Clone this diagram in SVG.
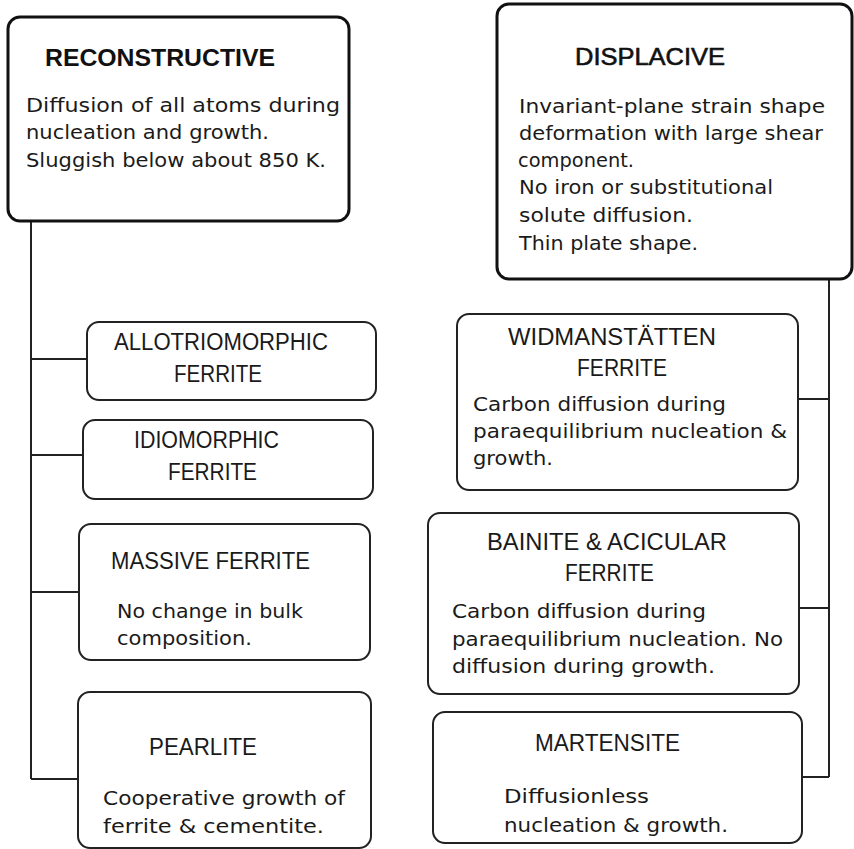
<svg xmlns="http://www.w3.org/2000/svg" width="854" height="849" viewBox="0 0 854 849">
<style>
.main{fill:#fff;stroke:#111;stroke-width:3}
.box{fill:#fff;stroke:#222;stroke-width:2}
.hd{font-family:"Liberation Sans",Arial,sans-serif;font-size:23px;fill:#1a1a1a}
.big{font-family:"Liberation Sans",Arial,sans-serif;font-size:24px;fill:#111;font-weight:bold}
.tx{font-family:"DejaVu Sans","Liberation Sans",sans-serif;font-size:19px;fill:#1a1a1a}
.cn{fill:none;stroke:#222;stroke-width:2}
</style>
<rect width="854" height="849" fill="#fff"/>
<g id="connectors">
<path class="cn" d="M31,221 V779 M31,359 H87 M31,455 H83 M31,592 H79 M31,779 H78"/>
<path class="cn" d="M829,279 V777 M798,399 H829 M799,608 H829 M802,777 H829"/>
</g>
<g id="reconstructive">
<rect class="main" x="8" y="17" width="341" height="204" rx="12"/>
<text class="big" x="45" y="66" textLength="230" lengthAdjust="spacingAndGlyphs">RECONSTRUCTIVE</text>
<text class="tx" x="26" y="112" textLength="314" lengthAdjust="spacingAndGlyphs">Diffusion of all atoms during</text>
<text class="tx" x="26" y="139" textLength="243" lengthAdjust="spacingAndGlyphs">nucleation and growth.</text>
<text class="tx" x="26" y="167" textLength="300" lengthAdjust="spacingAndGlyphs">Sluggish below about 850 K.</text>
</g>
<g id="displacive">
<rect class="main" x="497" y="4" width="355" height="275" rx="12"/>
<text class="big" x="575" y="65" textLength="150" lengthAdjust="spacingAndGlyphs" style="font-weight:normal;stroke:#111;stroke-width:0.6">DISPLACIVE</text>
<text class="tx" x="519" y="113" textLength="306" lengthAdjust="spacingAndGlyphs">Invariant-plane strain shape</text>
<text class="tx" x="519" y="140" textLength="304" lengthAdjust="spacingAndGlyphs">deformation with large shear</text>
<text class="tx" x="518" y="167" textLength="116" lengthAdjust="spacingAndGlyphs">component.</text>
<text class="tx" x="519" y="194" textLength="254" lengthAdjust="spacingAndGlyphs">No iron or substitutional</text>
<text class="tx" x="519" y="222" textLength="174" lengthAdjust="spacingAndGlyphs">solute diffusion.</text>
<text class="tx" x="519" y="250" textLength="179" lengthAdjust="spacingAndGlyphs">Thin plate shape.</text>
</g>
<g id="allotriomorphic">
<rect class="box" x="87" y="322" width="289" height="78" rx="12"/>
<text class="hd" x="114" y="350" textLength="214" lengthAdjust="spacingAndGlyphs">ALLOTRIOMORPHIC</text>
<text class="hd" x="174" y="382" textLength="88" lengthAdjust="spacingAndGlyphs">FERRITE</text>
</g>
<g id="idiomorphic">
<rect class="box" x="83" y="420" width="290" height="79" rx="12"/>
<text class="hd" x="134" y="448" textLength="145" lengthAdjust="spacingAndGlyphs">IDIOMORPHIC</text>
<text class="hd" x="168" y="480" textLength="89" lengthAdjust="spacingAndGlyphs">FERRITE</text>
</g>
<g id="massive">
<rect class="box" x="79" y="524" width="291" height="136" rx="12"/>
<text class="hd" x="111" y="569" textLength="199" lengthAdjust="spacingAndGlyphs">MASSIVE FERRITE</text>
<text class="tx" x="117" y="618" textLength="186" lengthAdjust="spacingAndGlyphs">No change in bulk</text>
<text class="tx" x="117" y="645" textLength="135" lengthAdjust="spacingAndGlyphs">composition.</text>
</g>
<g id="pearlite">
<rect class="box" x="78" y="692" width="293" height="156" rx="12"/>
<text class="hd" x="149" y="755" textLength="108" lengthAdjust="spacingAndGlyphs">PEARLITE</text>
<text class="tx" x="103" y="805" textLength="242" lengthAdjust="spacingAndGlyphs">Cooperative growth of</text>
<text class="tx" x="103" y="833" textLength="221" lengthAdjust="spacingAndGlyphs">ferrite &amp; cementite.</text>
</g>
<g id="widmanstatten">
<rect class="box" x="457" y="314" width="341" height="176" rx="12"/>
<text class="hd" x="508" y="345" textLength="208" lengthAdjust="spacingAndGlyphs">WIDMANSTÄTTEN</text>
<text class="hd" x="577" y="376" textLength="90" lengthAdjust="spacingAndGlyphs">FERRITE</text>
<text class="tx" x="473" y="411" textLength="253" lengthAdjust="spacingAndGlyphs">Carbon diffusion during</text>
<text class="tx" x="473" y="438" textLength="314" lengthAdjust="spacingAndGlyphs">paraequilibrium nucleation &amp;</text>
<text class="tx" x="473" y="465" textLength="80" lengthAdjust="spacingAndGlyphs">growth.</text>
</g>
<g id="bainite">
<rect class="box" x="428" y="513" width="371" height="181" rx="12"/>
<text class="hd" x="487" y="550" textLength="240" lengthAdjust="spacingAndGlyphs">BAINITE &amp; ACICULAR</text>
<text class="hd" x="565" y="581" textLength="89" lengthAdjust="spacingAndGlyphs">FERRITE</text>
<text class="tx" x="452" y="618" textLength="254" lengthAdjust="spacingAndGlyphs">Carbon diffusion during</text>
<text class="tx" x="452" y="646" textLength="331" lengthAdjust="spacingAndGlyphs">paraequilibrium nucleation. No</text>
<text class="tx" x="452" y="673" textLength="263" lengthAdjust="spacingAndGlyphs">diffusion during growth.</text>
</g>
<g id="martensite">
<rect class="box" x="433" y="712" width="369" height="131" rx="12"/>
<text class="hd" x="535" y="751" textLength="145" lengthAdjust="spacingAndGlyphs">MARTENSITE</text>
<text class="tx" x="504" y="803" textLength="145" lengthAdjust="spacingAndGlyphs">Diffusionless</text>
<text class="tx" x="504" y="832" textLength="224" lengthAdjust="spacingAndGlyphs">nucleation &amp; growth.</text>
</g>
</svg>
